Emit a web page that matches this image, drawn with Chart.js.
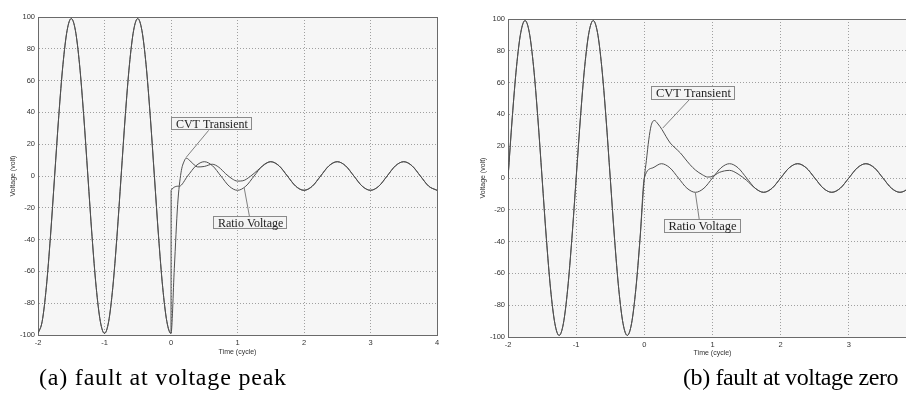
<!DOCTYPE html>
<html><head><meta charset="utf-8">
<script src="https://cdn.jsdelivr.net/npm/chart.js@4/dist/chart.umd.min.js"></script>
<style>
html,body{margin:0;padding:0;background:#fff;width:906px;height:400px;overflow:hidden;position:relative}
#ca{position:absolute;left:0;top:0}
#cb{position:absolute;left:470px;top:0}
.cap{position:absolute;font-family:"Liberation Serif","Times New Roman",serif;font-size:24px;line-height:24px;color:#000;white-space:nowrap;top:365px}
</style></head><body>
<canvas id="ca" width="460" height="370"></canvas>
<canvas id="cb" width="460" height="372"></canvas>
<div class="cap" style="left:39px;letter-spacing:0.8px">(a) fault at voltage peak</div>
<div class="cap" style="left:683px;letter-spacing:-0.4px">(b) fault at voltage zero</div>
<script>
// ---- data ----
const timeTicks = [-2, -1, 0, 1, 2, 3, 4];
const voltTicks = [-100, -80, -60, -40, -20, 0, 20, 40, 60, 80, 100];

const prefaultTime = [-2, -1.9375, -1.875, -1.8125, -1.75, -1.6875, -1.625, -1.5625, -1.5, -1.4375, -1.375, -1.3125, -1.25, -1.1875, -1.125, -1.0625, -1, -0.9375, -0.875, -0.8125, -0.75, -0.6875, -0.625, -0.5625, -0.5, -0.4375, -0.375, -0.3125, -0.25, -0.1875, -0.125, -0.0625, 0];

// (a) fault at voltage peak
const prefaultVoltA = [-99, -91.5, -70, -37.9, 0, 37.9, 70, 91.5, 99, 91.5, 70, 37.9, 0, -37.9, -70, -91.5, -99, -91.5, -70, -37.9, 0, 37.9, 70, 91.5, 99, 91.5, 70, 37.9, 0, -37.9, -70, -91.5, -99];
const ratioTimeA = [0.002, 0.125, 0.25, 0.375, 0.5, 0.625, 0.75, 0.875, 1, 1.125, 1.25, 1.375, 1.5, 1.625, 1.75, 1.875, 2, 2.125, 2.25, 2.375, 2.5, 2.625, 2.75, 2.875, 3, 3.125, 3.25, 3.375, 3.5, 3.625, 3.75, 3.875, 4];
const ratioVoltA = [-9, -6.4, 0, 6.4, 9, 6.4, 0, -6.4, -9, -6.4, 0, 6.4, 9, 6.4, 0, -6.4, -9, -6.4, 0, 6.4, 9, 6.4, 0, -6.4, -9, -6.4, 0, 6.4, 9, 6.4, 0, -6.4, -9];
const cvtTimeA = [0.05, 0.1, 0.15, 0.2, 0.23, 0.3, 0.4, 0.5, 0.62, 0.72, 0.82, 0.92, 1.0, 1.08, 1.2, 1.3, 1.4, 1.5, 1.625, 1.75, 1.875, 2, 2.125, 2.25, 2.375, 2.5, 2.625, 2.75, 2.875, 3, 3.125, 3.25, 3.375, 3.5, 3.625, 3.75, 3.875, 4];
const cvtVoltA = [-58, -18, 2, 9.5, 11.2, 9, 5.7, 6, 7.4, 5.5, 1.5, -1.8, -3.2, -3, 0, 3.5, 7, 9, 6.4, 0, -6.4, -9, -6.4, 0, 6.4, 9, 6.4, 0, -6.4, -9, -6.4, 0, 6.4, 9, 6.4, 0, -6.4, -9];

// (b) fault at voltage zero
const prefaultVoltB = [0, 37.9, 70, 91.5, 99, 91.5, 70, 37.9, 0, -37.9, -70, -91.5, -99, -91.5, -70, -37.9, 0, 37.9, 70, 91.5, 99, 91.5, 70, 37.9, 0, -37.9, -70, -91.5, -99, -91.5, -70, -37.9, 0];
const ratioTimeB = [0.125, 0.25, 0.375, 0.5, 0.625, 0.75, 0.875, 1, 1.125, 1.25, 1.375, 1.5, 1.625, 1.75, 1.875, 2, 2.125, 2.25, 2.375, 2.5, 2.625, 2.75, 2.875, 3, 3.125, 3.25, 3.375, 3.5, 3.625, 3.75, 3.875, 4];
const ratioVoltB = [6.4, 9, 6.4, 0, -6.4, -9, -6.4, 0, 6.4, 9, 6.4, 0, -6.4, -9, -6.4, 0, 6.4, 9, 6.4, 0, -6.4, -9, -6.4, 0, 6.4, 9, 6.4, 0, -6.4, -9, -6.4, 0];
const cvtTimeB = [0.03, 0.065, 0.1, 0.147, 0.2, 0.26, 0.32, 0.38, 0.45, 0.53, 0.6, 0.67, 0.75, 0.85, 0.93, 1.0, 1.1, 1.25, 1.375, 1.5, 1.625, 1.75, 1.875, 2, 2.125, 2.25, 2.375, 2.5, 2.625, 2.75, 2.875, 3, 3.125, 3.25, 3.375, 3.5, 3.625, 3.75, 3.875, 4];
const cvtVoltB = [11, 24, 33, 36.2, 34, 30.4, 26, 22, 19, 15.7, 12, 8.4, 5, 2.1, 0.6, 1, 3.5, 4.8, 2.5, -1.5, -6.4, -9, -6.4, 0, 6.4, 9, 6.4, 0, -6.4, -9, -6.4, 0, 6.4, 9, 6.4, 0, -6.4, -9, -6.4, 0];

const seriesNames = ['CVT Transient', 'Ratio Voltage'];

// ---- helpers ----
function pts(ts, vs) { return ts.map((t, i) => ({x: t, y: vs[i]})); }

const plotBg = {
  id: 'plotBg',
  beforeDraw(chart) {
    const {ctx, chartArea: a} = chart;
    ctx.save(); ctx.fillStyle = '#f6f6f6';
    ctx.fillRect(a.left, a.top, a.right - a.left, a.bottom - a.top);
    ctx.restore();
  }
};

const callouts = {
  id: 'callouts',
  afterDatasetsDraw(chart, args, opts) {
    const {ctx, scales: {x, y}} = chart;
    ctx.save();
    ctx.font = opts.fontSize + 'px "Liberation Serif", "Times New Roman", serif';
    for (const it of opts.items) {
      const bx = x.getPixelForValue(it.box[0]), by = y.getPixelForValue(it.box[1]);
      const w = ctx.measureText(it.text).width + 9, h = opts.fontSize + 1;
      ctx.strokeStyle = '#808080'; ctx.lineWidth = 1;
      ctx.beginPath();
      ctx.moveTo(x.getPixelForValue(it.from[0]), y.getPixelForValue(it.from[1]));
      ctx.lineTo(x.getPixelForValue(it.to[0]), y.getPixelForValue(it.to[1]));
      ctx.stroke();
      ctx.fillStyle = '#f4f4f4';
      ctx.fillRect(bx - w / 2, by - h / 2, w, h);
      ctx.strokeStyle = '#8a8a8a';
      ctx.strokeRect(Math.round(bx - w / 2) + 0.5, Math.round(by - h / 2) + 0.5, Math.round(w) - 1, Math.round(h) - 1);
      ctx.fillStyle = '#222'; ctx.textAlign = 'center'; ctx.textBaseline = 'middle';
      ctx.fillText(it.text, bx, by + 0.5);
    }
    ctx.restore();
  }
};

const tickFont = {family: '"Liberation Sans", Arial, sans-serif', size: 7.5};
const titleFont = {family: '"Liberation Sans", Arial, sans-serif', size: 7};

function makeChart(id, p) {
  const ds = (label, data) => ({
    label, data, borderColor: '#505050', borderWidth: 1, pointRadius: 0,
    cubicInterpolationMode: 'monotone', fill: false
  });
  return new Chart(document.getElementById(id), {
    type: 'line',
    data: {datasets: [
      ds(seriesNames[0], pts(prefaultTime, p.preV).concat(pts(p.cvtT, p.cvtV))),
      ds(seriesNames[1], pts(prefaultTime, p.preV).concat(pts(p.ratT, p.ratV)))
    ]},
    options: {
      responsive: false, animation: false, events: [],
      layout: {padding: {left: 0, right: p.padR, top: p.padT, bottom: 0}},
      plugins: {
        legend: {display: false}, tooltip: {enabled: false},
        callouts: {fontSize: p.calloutSize, items: p.callouts}
      },
      scales: {
        x: {
          type: 'linear', min: -2, max: 4, position: 'bottom',
          afterBuildTicks: s => { s.ticks = timeTicks.map(v => ({value: v})); },
          afterFit: s => { s.height = 35; s.paddingLeft = 0; s.paddingRight = 0; },
          grid: {color: '#a0a0a0', lineWidth: 1, drawTicks: false},
          border: {display: true, color: '#6a6a6a', width: 1, dash: [1, 2]},
          ticks: {font: tickFont, color: '#333', padding: 3, maxRotation: 0, autoSkip: false},
          title: {display: true, text: 'Time (cycle)', font: titleFont, color: '#333', padding: {top: 0, bottom: p.xTitlePad}}
        },
        y: {
          type: 'linear', min: -100, max: 100, position: 'left',
          afterBuildTicks: s => { s.ticks = voltTicks.map(v => ({value: v})); },
          afterFit: s => { s.width = 38; s.paddingTop = 0; s.paddingBottom = 0; },
          grid: {color: '#a0a0a0', lineWidth: 1, drawTicks: false},
          border: {display: true, color: '#6a6a6a', width: 1, dash: [1, 2]},
          ticks: {font: tickFont, color: '#333', padding: 3, autoSkip: false},
          title: {display: true, text: 'Voltage (volt)', font: titleFont, color: '#333', padding: {top: p.yTitlePad, bottom: 0}}
        },
        x2: {
          type: 'linear', min: -2, max: 4, position: 'top',
          afterFit: s => { s.height = 0; s.paddingLeft = 0; s.paddingRight = 0; },
          grid: {display: false, drawTicks: false},
          border: {display: true, color: '#6a6a6a', width: 1},
          ticks: {display: false}
        },
        y2: {
          type: 'linear', min: -100, max: 100, position: 'right',
          afterFit: s => { s.width = 0; s.paddingTop = 0; s.paddingBottom = 0; },
          grid: {display: false, drawTicks: false},
          border: {display: true, color: '#6a6a6a', width: 1},
          ticks: {display: false}
        }
      }
    },
    plugins: [plotBg, callouts]
  });
}

makeChart('ca', {
  preV: prefaultVoltA, cvtT: cvtTimeA, cvtV: cvtVoltA, ratT: ratioTimeA, ratV: ratioVoltA,
  padR: 23, padT: 17, xTitlePad: 13.8, yTitlePad: 8.8, calloutSize: 12,
  callouts: [
    {text: seriesNames[0], box: [0.615, 32.8], from: [0.6, 30.4], to: [0.226, 11.6]},
    {text: seriesNames[1], box: [1.197, -29.5], from: [1.18, -25.5], to: [1.1, -7.3]}
  ]
});

makeChart('cb', {
  preV: prefaultVoltB, cvtT: cvtTimeB, cvtV: cvtVoltB, ratT: ratioTimeB, ratV: ratioVoltB,
  padR: 13, padT: 19, xTitlePad: 14.5, yTitlePad: 9.1, calloutSize: 12.5,
  callouts: [
    {text: seriesNames[0], box: [0.72, 53.5], from: [0.67, 49.7], to: [0.27, 31.4]},
    {text: seriesNames[1], box: [0.853, -30.2], from: [0.806, -26.2], to: [0.748, -9.1]}
  ]
});
</script>
</body></html>
